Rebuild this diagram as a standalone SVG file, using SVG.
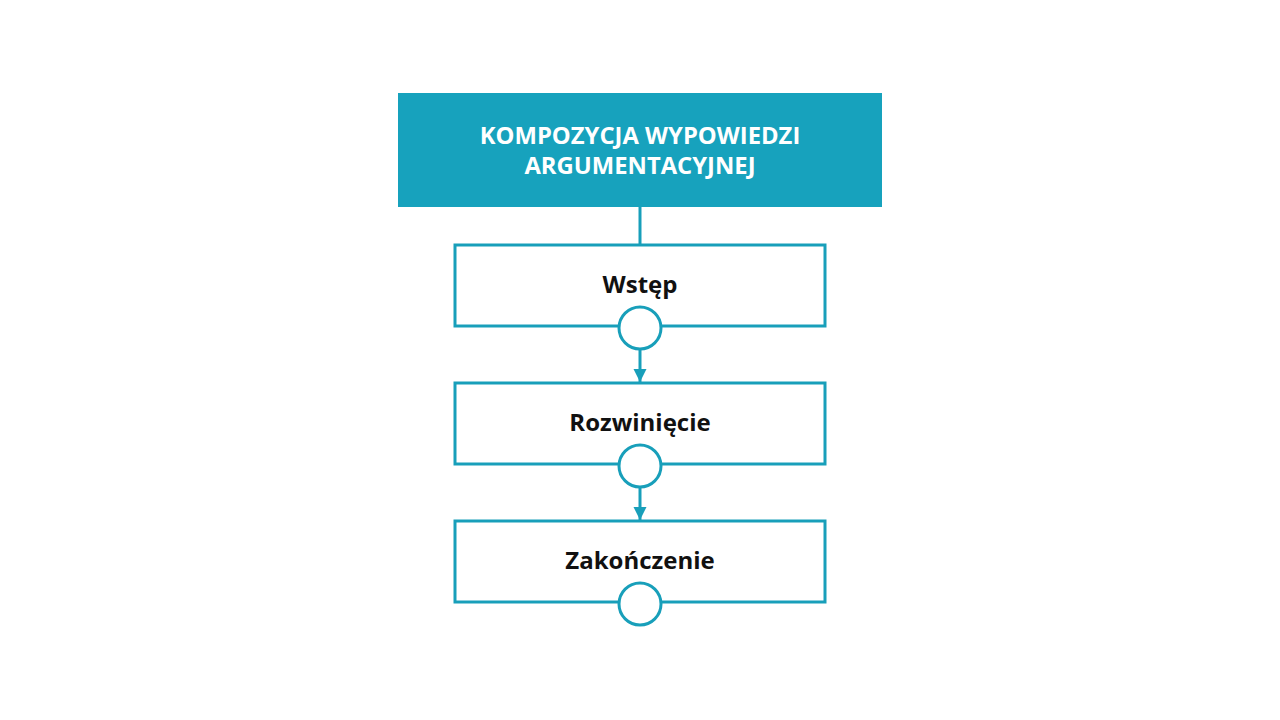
<svg xmlns="http://www.w3.org/2000/svg" width="1280" height="720" viewBox="0 0 1280 720">
<style>
.box{fill:#ffffff;stroke:#189fba;stroke-width:3}
.dot{fill:#ffffff;stroke:#189fba;stroke-width:3}
.conn{stroke:#189fba;stroke-width:3;fill:none}
.lbl{font-family:"Open Sans","Liberation Sans",sans-serif;font-weight:bold;font-size:24px;fill:#111111;text-anchor:middle}
.ttl{font-family:"Open Sans","Liberation Sans",sans-serif;font-weight:bold;font-size:23.8px;fill:#ffffff;text-anchor:middle}
</style>
<defs>
<marker id="arr" viewBox="0 0 10 10" refX="10" refY="5" markerWidth="4.5" markerHeight="4.5" orient="auto" markerUnits="strokeWidth">
<path d="M0,0 L10,5 L0,10 z" fill="#189fba"/>
</marker>
</defs>
<rect width="1280" height="720" fill="#ffffff"/>
<g id="connectors">
<line class="conn" x1="640" y1="207" x2="640" y2="245"/>
<line class="conn" x1="640" y1="349" x2="640" y2="382" marker-end="url(#arr)"/>
<line class="conn" x1="640" y1="487" x2="640" y2="520" marker-end="url(#arr)"/>
</g>
<g id="title">
<rect x="398" y="93" width="484" height="114" fill="#17a2bd"/>
<text class="ttl" x="640" y="144">KOMPOZYCJA WYPOWIEDZI</text>
<text class="ttl" x="640" y="174">ARGUMENTACYJNEJ</text>
</g>
<g id="wstep">
<rect class="box" x="455" y="245" width="370" height="81"/>
<text class="lbl" x="640" y="293">Wstęp</text>
<circle class="dot" cx="640" cy="328" r="21"/>
</g>
<g id="rozwiniecie">
<rect class="box" x="455" y="383" width="370" height="81"/>
<text class="lbl" x="640" y="431">Rozwinięcie</text>
<circle class="dot" cx="640" cy="466" r="21"/>
</g>
<g id="zakonczenie">
<rect class="box" x="455" y="521" width="370" height="81"/>
<text class="lbl" x="640" y="569">Zakończenie</text>
<circle class="dot" cx="640" cy="604" r="21"/>
</g>
</svg>
